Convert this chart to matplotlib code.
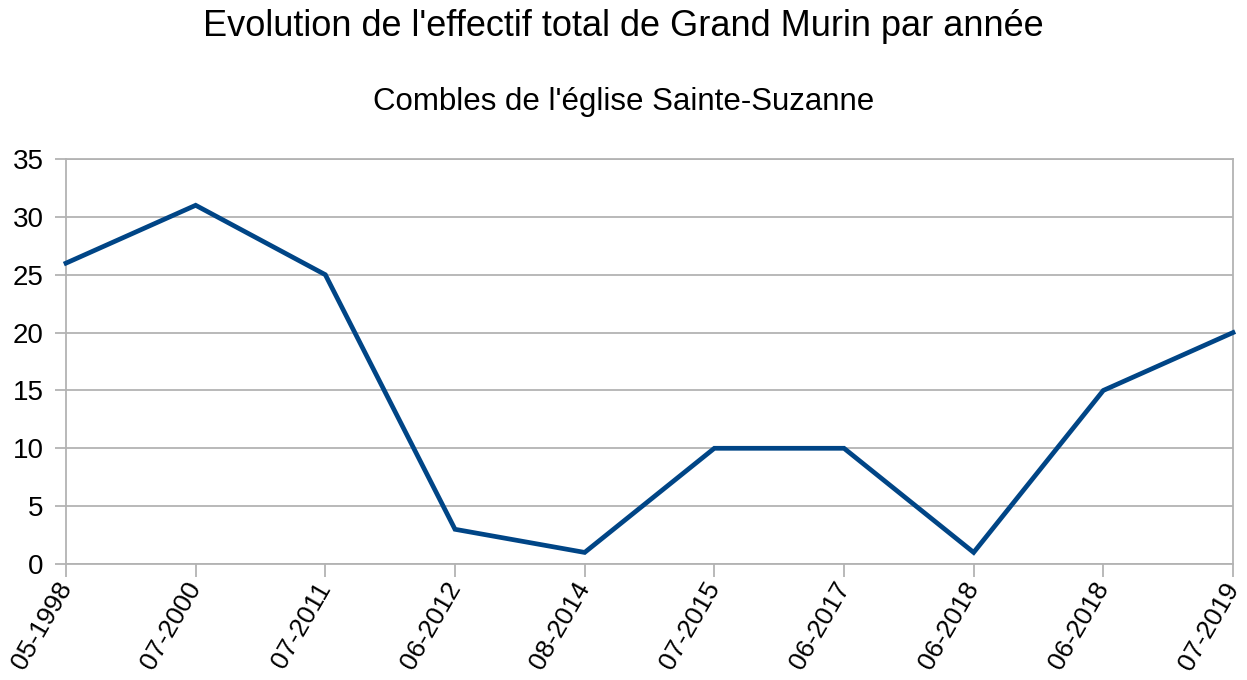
import matplotlib
matplotlib.use("Agg")
import matplotlib.pyplot as plt

plt.rcParams['font.family'] = ['Liberation Sans', 'DejaVu Sans']

dates = ["05-1998", "07-2000", "07-2011", "06-2012", "08-2014",
         "07-2015", "06-2017", "06-2018", "06-2018", "07-2019"]
effectif = [26, 31, 25, 3, 1, 10, 10, 1, 15, 20]
y_ticks = [0, 5, 10, 15, 20, 25, 30, 35]

title = "Evolution de l'effectif total de Grand Murin par année"
subtitle = "Combles de l'église Sainte-Suzanne"

fig = plt.figure(figsize=(12.47, 6.8), dpi=100)
ax = fig.add_axes([66/1247, 1-564/680, (1233-66)/1247, (564-159)/680])

x = list(range(len(dates)))
ax.plot(x, effectif, color="#004586", linewidth=3.4, solid_joinstyle="miter", clip_on=False, zorder=3)

ax.set_xlim(0, len(dates)-1)
ax.set_ylim(0, 35)
ax.set_yticks(y_ticks)
ax.set_xticks(x)
ax.set_xticklabels(dates, rotation=60, ha="right", va="center", rotation_mode="anchor", fontsize=19)
ax.grid(axis="y", color="#b3b3b3", linewidth=1.3)
ax.set_axisbelow(True)
for s in ax.spines.values():
    s.set_color("#b3b3b3")
    s.set_linewidth(1.3)
ax.tick_params(axis="both", colors="#b3b3b3", labelcolor="black", width=1.3)
ax.tick_params(axis="y", length=8, pad=8, labelsize=20)
ax.tick_params(axis="x", length=9.5, pad=5)

fig.text(0.5, 1-27/680, title, ha="center", va="center", fontsize=26)
fig.text(0.5, 1-102/680, subtitle, ha="center", va="center", fontsize=22.5)

fig.savefig("out.png", dpi=100)
